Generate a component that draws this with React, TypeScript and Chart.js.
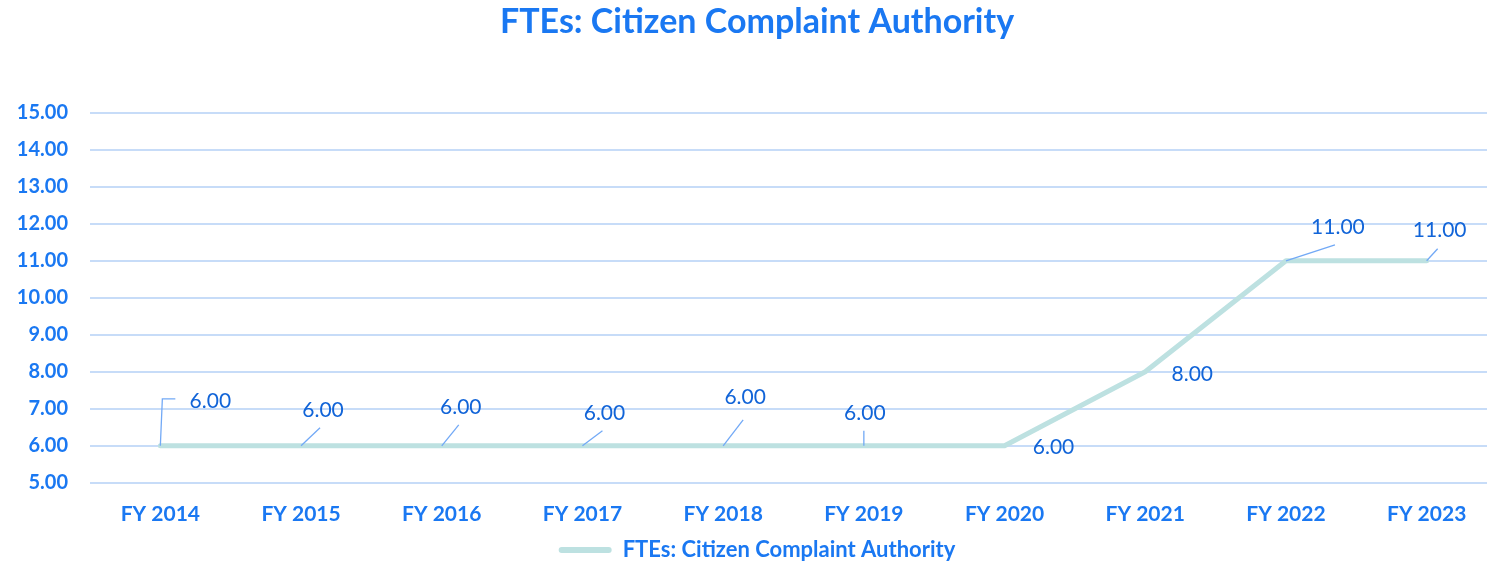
import React, { useEffect, useRef } from "react";
import { Chart, registerables } from "chart.js";

Chart.register(...registerables);

const categories = ["FY 2014", "FY 2015", "FY 2016", "FY 2017", "FY 2018", "FY 2019", "FY 2020", "FY 2021", "FY 2022", "FY 2023"];
const fteValues = [6, 6, 6, 6, 6, 6, 6, 8, 11, 11];
const seriesName = "FTEs: Citizen Complaint Authority";
const titleText = "FTEs: Citizen Complaint Authority";

// label placement relative to each point (styling, not data)
const labelOffsets: [number, number][] = [
  [50, -45], [22, -36], [19, -39], [22, -33], [22, -49], [1, -33], [49, 1], [47, 2], [52, -34], [13, -31],
];
const leaderLines: [number, number][][] = [
  [[0, 0], [2, -47], [15, -47]],
  [[0, 0], [19, -18]],
  [[0, 0], [17, -21]],
  [[0, 0], [20, -15]],
  [[0, 0], [20, -26]],
  [[0, 0], [0, -15]],
  [],
  [],
  [[0, 0], [49, -16]],
  [[0, 0], [11, -12]],
];

const FONT = "Lato, 'Open Sans', sans-serif";
const BLUE = "#1a78f2";
const LABEL_BLUE = "#1164d8";
const LINE = "#bde1e1";
const GRID = "#c7dcf8";
const LEADER = "#72a9f6";

const labelPlugin = {
  id: "pointLabels",
  afterDatasetsDraw(chart: any) {
    const ctx = chart.ctx;
    const meta = chart.getDatasetMeta(0);
    ctx.save();
    meta.data.forEach((pt: any, i: number) => {
      const lines = leaderLines[i];
      if (lines && lines.length) {
        ctx.beginPath();
        ctx.strokeStyle = LEADER;
        ctx.lineWidth = 1.3;
        lines.forEach(([dx, dy], k) => {
          if (k === 0) ctx.moveTo(pt.x + dx, pt.y + dy);
          else ctx.lineTo(pt.x + dx, pt.y + dy);
        });
        ctx.stroke();
      }
      const [ox, oy] = labelOffsets[i];
      ctx.fillStyle = LABEL_BLUE;
      ctx.font = `21px ${FONT}`;
      ctx.textAlign = "center";
      ctx.textBaseline = "middle";
      ctx.fillText(fteValues[i].toFixed(2), pt.x + ox, pt.y + oy);
    });
    ctx.restore();
  },
};

export default function App() {
  const ref = useRef<HTMLCanvasElement | null>(null);
  useEffect(() => {
    if (!ref.current) return;
    const chart = new Chart(ref.current, {
      type: "line",
      data: {
        labels: categories,
        datasets: [
          {
            label: seriesName,
            data: fteValues,
            borderColor: LINE,
            backgroundColor: LINE,
            borderWidth: 5,
            pointRadius: 0,
            tension: 0,
            borderCapStyle: "round",
            borderJoinStyle: "round",
          },
        ],
      },
      options: {
        responsive: false,
        animation: false,
        layout: { padding: { left: 17, right: 0, top: 0, bottom: -10 } },
        plugins: {
          title: {
            display: true,
            text: titleText,
            color: BLUE,
            font: { family: FONT, size: 34, weight: "bold" },
            padding: { top: 2, bottom: 70 },
          },
          legend: {
            position: "bottom",
            labels: {
              color: BLUE,
              font: { family: FONT, size: 22, weight: "bold" },
              boxWidth: 53,
              boxHeight: 6,
              padding: 1,
              generateLabels: () => [
                {
                  text: seriesName,
                  fillStyle: LINE,
                  strokeStyle: LINE,
                  fontColor: BLUE,
                  lineWidth: 0,
                  borderRadius: 3,
                  datasetIndex: 0,
                  hidden: false,
                } as any,
              ],
            },
          },
          tooltip: { enabled: false },
        },
        scales: {
          x: {
            offset: true,
            grid: { display: false },
            border: { display: false },
            ticks: {
              color: BLUE,
              font: { family: FONT, size: 21, weight: "bold" },
              padding: 11,
              maxRotation: 0,
              autoSkip: false,
            },
          },
          y: {
            min: 5,
            max: 15,
            afterFit: (scale: any) => {
              scale.width = 73;
            },
            grid: { color: GRID, lineWidth: 2, drawTicks: false },
            border: { display: false },
            ticks: {
              stepSize: 1,
              color: BLUE,
              font: { family: FONT, size: 20, weight: "bold" },
              padding: 22,
              callback: (v: any) => Number(v).toFixed(2),
            },
          },
        },
      },
      plugins: [labelPlugin],
    });
    return () => chart.destroy();
  }, []);

  return (
    <div style={{ position: "fixed", left: 0, top: 0, width: 1487, height: 561, overflow: "hidden", background: "#fff" }}>
      <canvas ref={ref} width={1497} height={561} style={{ width: 1497, height: 561, display: "block" }} />
    </div>
  );
}
